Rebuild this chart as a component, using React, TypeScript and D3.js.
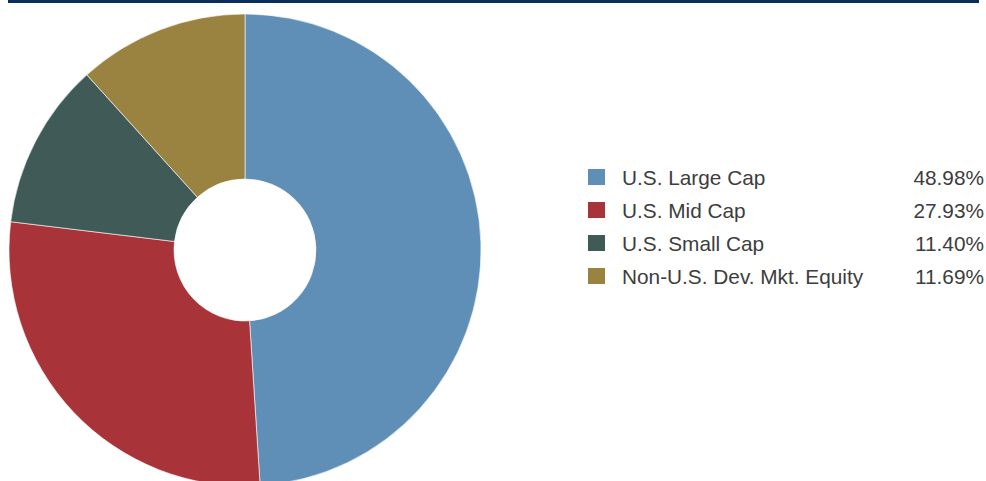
import React from "react";
import * as d3 from "d3";

const categories = ["U.S. Large Cap", "U.S. Mid Cap", "U.S. Small Cap", "Non-U.S. Dev. Mkt. Equity"];
const values = [48.98, 27.93, 11.4, 11.69];
const valueLabels = ["48.98%", "27.93%", "11.40%", "11.69%"];
const colors = ["#5f8eb6", "#a8343a", "#405b57", "#9a8341"];

const W = 986;
const H = 481;

export default function App() {
  const cx = 245;
  const cy = 250;
  const outerR = 236;
  const innerR = 71;

  const data = categories.map((c, i) => ({ name: c, value: values[i], color: colors[i], label: valueLabels[i] }));
  const pie = d3.pie<any>().sort(null).value((d: any) => d.value).startAngle(0).endAngle(2 * Math.PI);
  const arcs = pie(data);
  const arcGen = d3.arc<any>().innerRadius(innerR).outerRadius(outerR);

  const legendY = d3.scalePoint<string>().domain(categories).range([184.5, 283.5]);

  return (
    <svg
      width={W}
      height={H}
      style={{ position: "absolute", left: 0, top: 0, display: "block" }}
      fontFamily="'Liberation Sans', Arial, sans-serif"
    >
      <rect x={0} y={0} width={W} height={H} fill="#ffffff" />
      <rect x={8} y={0} width={971} height={3} fill="#0b2d5c" />
      <g transform={`translate(${cx},${cy})`}>
        {arcs.map((a, i) => (
          <path key={i} d={arcGen(a) as string} fill={a.data.color} stroke="#ffffff" strokeWidth={0.6} />
        ))}
      </g>
      <g>
        {data.map((d, i) => {
          const y = legendY(d.name) as number;
          return (
            <g key={i}>
              <rect x={588} y={y - 15.5} width={17} height={16} fill={d.color} />
              <text x={622} y={y} fontSize={20.8} fill="#3d3d3d">
                {d.name}
              </text>
              <text x={984} y={y} fontSize={20.8} fill="#3d3d3d" textAnchor="end">
                {d.label}
              </text>
            </g>
          );
        })}
      </g>
    </svg>
  );
}
